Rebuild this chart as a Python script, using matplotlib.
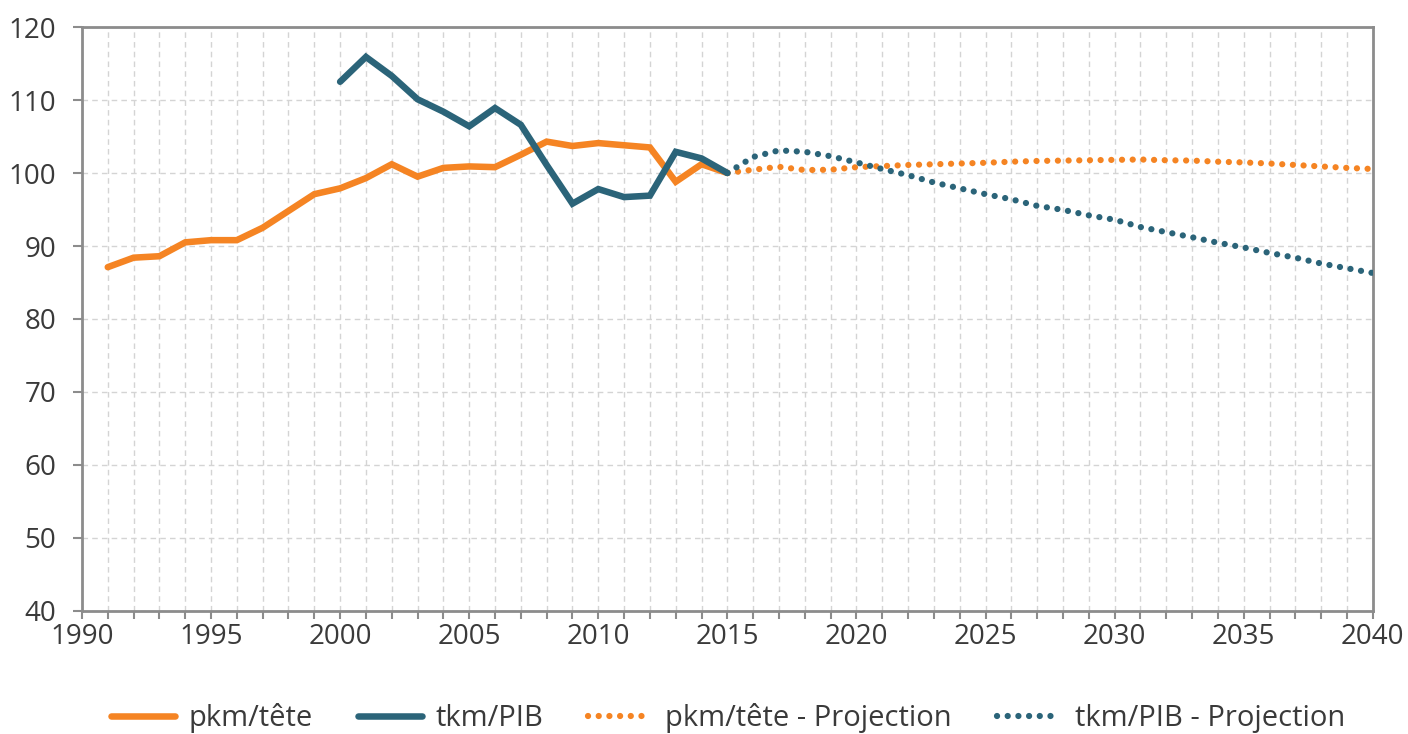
import matplotlib
matplotlib.use("Agg")
import matplotlib.pyplot as plt
from matplotlib.ticker import MultipleLocator

# Historical data
years_pkm = list(range(1991, 2016))
pkm_tete = [87.1, 88.4, 88.6, 90.5, 90.8, 90.8, 92.5, 94.8, 97.1, 97.9,
            99.3, 101.2, 99.5, 100.7, 100.9, 100.8, 102.5, 104.3, 103.7, 104.1,
            103.8, 103.5, 98.8, 101.2, 100.0]

years_tkm = list(range(2000, 2016))
tkm_pib = [112.5, 115.9, 113.3, 110.1, 108.4, 106.4, 108.9, 106.6, 101.1, 95.8,
           97.8, 96.7, 96.9, 102.9, 102.0, 100.0]

# Projections
years_proj = list(range(2015, 2041))
pkm_proj = [100.0, 100.45, 100.85, 100.4, 100.45, 100.8, 100.95, 101.1, 101.2, 101.3,
            101.4, 101.55, 101.65, 101.7, 101.75, 101.8, 101.85, 101.75, 101.7, 101.55,
            101.45, 101.3, 101.1, 100.9, 100.7, 100.55]
tkm_proj = [100.0, 102.2, 103.1, 102.9, 102.3, 101.45, 100.55, 99.7, 98.7, 97.9,
            97.1, 96.4, 95.5, 94.95, 94.2, 93.6, 92.6, 91.9, 91.2, 90.45,
            89.8, 89.05, 88.4, 87.6, 86.95, 86.3]

labels = ["pkm/tête", "tkm/PIB", "pkm/tête - Projection", "tkm/PIB - Projection"]

ORANGE = "#F58423"
BLUE = "#2B6479"
TEXT = "#3A3A3A"
SPINE = "#8C8C8C"

plt.rcParams['font.family'] = ['Open Sans', 'DejaVu Sans']

fig = plt.figure(figsize=(14.08, 7.34), dpi=100)
ax = fig.add_axes([0.0582, 0.1676, 0.9168, 0.7956])

dot = (0, (0.01, 1.7))
l1, = ax.plot(years_pkm, pkm_tete, color=ORANGE, lw=4.7, solid_capstyle='round',
              solid_joinstyle='miter', label=labels[0], zorder=3)
l2, = ax.plot(years_tkm, tkm_pib, color=BLUE, lw=4.7, solid_capstyle='round',
              solid_joinstyle='miter', label=labels[1], zorder=4)
l3, = ax.plot(years_proj, pkm_proj, color=ORANGE, lw=4.5, linestyle=dot,
              dash_capstyle='round', label=labels[2], zorder=3)
l4, = ax.plot(years_proj, tkm_proj, color=BLUE, lw=4.5, linestyle=dot,
              dash_capstyle='round', label=labels[3], zorder=3)

ax.set_xlim(1990, 2040)
ax.set_ylim(40, 120)
ax.xaxis.set_major_locator(MultipleLocator(5))
ax.xaxis.set_minor_locator(MultipleLocator(1))
ax.yaxis.set_major_locator(MultipleLocator(10))

ax.grid(which='both', axis='x', color='#D4D4D4', linestyle=(0, (4, 3)), lw=1)
ax.grid(which='major', axis='y', color='#D4D4D4', linestyle=(0, (4, 3)), lw=1)
ax.set_axisbelow(True)

for s in ax.spines.values():
    s.set_color(SPINE)
    s.set_linewidth(2)

ax.tick_params(axis='both', which='both', direction='out', color=SPINE, width=1.5,
               labelcolor=TEXT, labelsize=20)
ax.tick_params(axis='x', which='major', length=6, pad=3)
ax.tick_params(axis='x', which='minor', length=6)
ax.tick_params(axis='y', which='major', length=6.5, pad=12)

fig.legend(handles=[l1, l2, l3, l4], labels=labels, loc='center',
           bbox_to_anchor=(0.517, 0.022), ncol=4, frameon=False,
           fontsize=21, handlelength=2.2, columnspacing=1.55, handletextpad=0.45,
           labelcolor=TEXT)

fig.savefig("out.png", dpi=100)
